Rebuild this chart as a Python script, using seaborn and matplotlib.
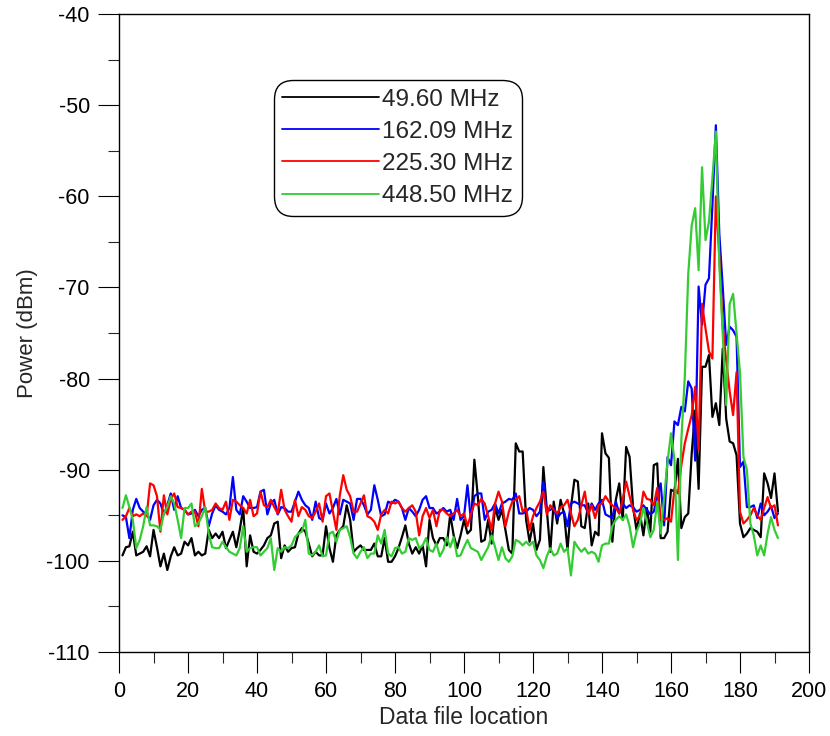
import matplotlib
matplotlib.use("Agg")
import matplotlib.pyplot as plt
from matplotlib.ticker import MultipleLocator
import seaborn as sns
import pandas as pd

# Data file location (x) and power readings (dBm) for each frequency
locations = list(range(1, 192))

p_49_60 = [
    -99.4, -98.5, -98.4, -96.8, -99.4, -99.2, -99.0, -98.4, -99.5, -96.6,
    -98.5, -100.6, -99.2, -101.0, -99.5, -98.5, -99.4, -99.2, -97.9, -98.3,
    -97.5, -99.4, -99.0, -99.4, -99.2, -96.6, -97.5, -97.0, -97.5, -96.8,
    -98.6, -97.7, -96.8, -98.5, -96.6, -94.2, -100.6, -97.2, -99.0, -99.2,
    -98.8, -98.3, -97.5, -97.2, -95.9, -95.7, -99.7, -98.3, -99.0, -98.6,
    -98.5, -97.0, -96.4, -96.8, -98.1, -99.5, -99.0, -99.4, -99.4, -96.2,
    -98.6, -100.1, -97.2, -96.6, -96.2, -93.9, -95.5, -99.0, -98.6, -98.3,
    -98.8, -98.8, -98.8, -98.1, -99.5, -99.5, -97.5, -100.1, -100.1, -99.5,
    -98.6, -97.4, -96.1, -98.1, -99.2, -98.5, -99.2, -98.3, -100.6, -95.5,
    -97.5, -98.3, -97.5, -97.5, -98.3, -94.9, -97.2, -98.6, -97.2, -95.5,
    -97.0, -96.6, -88.9, -92.9, -97.9, -97.7, -95.5, -98.1, -94.1, -95.5,
    -94.4, -96.6, -98.8, -99.2, -87.1, -88.0, -88.0, -95.5, -97.9, -95.9,
    -98.8, -97.7, -89.7, -94.4, -99.0, -93.5, -95.9, -93.3, -94.8, -98.8,
    -94.1, -91.1, -91.3, -96.2, -96.4, -93.7, -98.3, -96.8, -97.2, -86.0,
    -88.2, -88.7, -97.9, -93.3, -91.5, -95.5, -87.5, -88.6, -94.1, -96.6,
    -94.8, -97.2, -94.2, -96.8, -89.5, -89.3, -97.5, -97.5, -96.8, -92.2,
    -92.4, -88.8, -96.4, -95.2, -94.8, -88.2, -83.5, -92.1, -78.7, -78.7,
    -77.4, -84.2, -82.7, -85.1, -76.7, -84.4, -86.9, -87.1, -88.4, -95.9,
    -97.4, -97.0, -96.4, -96.6, -96.8, -97.4, -90.4, -91.5, -93.1, -90.4,
    -94.6,
]

p_162_09 = [
    -95.0, -95.2, -97.5, -94.4, -93.2, -94.2, -94.6, -94.9, -95.5, -93.9,
    -93.3, -93.7, -94.9, -93.9, -92.6, -94.4, -92.9, -94.2, -94.4, -94.9,
    -94.8, -94.4, -95.1, -94.4, -94.2, -96.2, -94.8, -93.9, -94.4, -94.6,
    -94.9, -94.2, -90.8, -94.4, -94.9, -92.9, -93.5, -94.2, -94.2, -94.1,
    -92.4, -92.2, -94.9, -93.7, -93.3, -94.9, -94.1, -94.2, -94.6, -94.6,
    -93.5, -92.4, -93.3, -93.9, -94.2, -95.5, -93.5, -95.3, -95.5, -93.7,
    -94.8, -94.2, -93.2, -94.9, -93.3, -93.5, -93.7, -95.5, -93.2, -93.2,
    -93.9, -94.9, -94.4, -91.7, -93.3, -95.1, -94.9, -93.5, -93.7, -93.3,
    -93.5, -94.2, -95.5, -94.2, -94.6, -95.1, -94.4, -93.3, -92.9, -94.2,
    -94.2, -94.8, -94.6, -94.2, -94.6, -94.4, -95.5, -93.2, -95.5, -95.1,
    -91.7, -95.5, -92.9, -92.6, -92.6, -95.5, -94.6, -94.4, -93.7, -94.8,
    -93.7, -93.5, -93.2, -93.3, -92.6, -94.8, -94.8, -94.6, -94.2, -94.4,
    -95.1, -94.6, -91.3, -94.6, -94.4, -94.2, -95.3, -94.8, -94.6, -96.2,
    -93.7, -93.5, -93.7, -93.9, -93.9, -94.8, -93.7, -94.4, -93.7, -93.3,
    -94.9, -95.1, -95.3, -93.5, -94.8, -93.7, -94.2, -93.9, -94.1, -94.6,
    -94.4, -93.9, -94.4, -94.9, -94.6, -93.0, -91.5, -96.1, -88.6, -89.5,
    -84.7, -85.1, -83.1, -83.6, -80.3, -81.1, -89.0, -69.9, -74.1, -69.7,
    -69.0, -61.0, -52.2, -64.1, -70.0, -76.3, -74.3, -74.7, -75.4, -89.7,
    -89.1, -94.1, -94.1, -93.9, -95.3, -93.7, -95.0, -94.6, -94.0, -95.3,
    -94.8,
]

p_225_30 = [
    -95.5, -95.1, -94.2, -95.1, -94.9, -95.1, -94.8, -95.1, -91.5, -91.7,
    -92.9, -96.8, -92.8, -94.9, -93.2, -92.6, -94.1, -94.2, -94.4, -94.9,
    -94.6, -94.6, -96.2, -92.1, -94.6, -94.6, -94.4, -93.7, -94.2, -94.4,
    -93.5, -95.5, -93.3, -93.5, -93.9, -94.2, -94.8, -93.3, -95.1, -94.8,
    -92.4, -93.9, -94.1, -93.3, -94.1, -94.8, -92.2, -94.4, -95.1, -95.7,
    -93.3, -95.1, -94.1, -94.4, -95.1, -95.3, -94.6, -93.7, -95.7, -92.9,
    -92.6, -94.6, -96.6, -92.8, -90.6, -92.2, -92.9, -94.6, -94.6, -93.7,
    -92.8, -95.1, -95.3, -95.7, -96.6, -94.9, -94.4, -94.8, -93.5, -93.7,
    -93.5, -94.2, -94.6, -94.2, -93.9, -94.6, -97.2, -95.1, -94.2, -95.3,
    -94.4, -96.2, -94.4, -94.4, -94.8, -95.1, -94.8, -94.4, -95.1, -94.8,
    -96.2, -94.9, -93.7, -93.9, -93.2, -93.7, -95.1, -96.6, -93.7, -92.4,
    -93.5, -96.2, -94.6, -93.5, -93.3, -92.9, -94.6, -94.2, -96.6, -95.1,
    -94.2, -93.5, -92.4, -94.9, -93.9, -94.4, -94.8, -94.1, -93.9, -93.3,
    -94.8, -96.2, -95.5, -93.9, -92.4, -94.9, -93.9, -95.3, -93.9, -93.7,
    -92.9, -93.5, -93.9, -94.2, -94.8, -93.3, -91.3, -92.9, -94.4, -95.5,
    -95.1, -92.4, -93.2, -93.3, -93.9, -92.0, -95.3, -95.5, -95.3, -95.7,
    -92.1, -92.6, -89.5, -87.1, -85.5, -84.0, -80.9, -87.8, -71.8, -74.5,
    -77.0, -77.8, -60.0, -66.6, -74.3, -78.0, -81.4, -84.0, -79.3, -94.6,
    -95.9, -95.5, -95.0, -94.2, -95.0, -95.5, -94.2, -93.0, -94.2, -93.9,
    -96.1,
]

p_448_50 = [
    -94.2, -92.8, -94.1, -95.5, -98.6, -97.7, -96.2, -94.1, -96.1, -96.1,
    -96.2, -96.6, -94.8, -94.1, -92.9, -93.7, -95.5, -97.5, -94.2, -94.2,
    -93.7, -96.2, -95.9, -95.1, -94.1, -97.0, -98.5, -98.6, -98.6, -97.9,
    -98.5, -99.0, -99.2, -99.4, -98.6, -96.2, -99.0, -98.6, -98.5, -98.5,
    -99.4, -99.0, -98.6, -97.5, -101.0, -98.6, -99.0, -98.5, -98.6, -98.3,
    -97.4, -97.0, -96.8, -95.5, -99.2, -99.4, -99.0, -98.3, -99.5, -99.4,
    -97.0, -96.8, -97.9, -96.6, -96.4, -96.2, -97.4, -99.2, -99.7, -99.0,
    -98.5, -99.7, -99.2, -99.2, -97.2, -98.1, -96.6, -99.2, -99.5, -98.6,
    -98.5, -99.2, -99.0, -97.5, -97.7, -97.5, -98.6, -98.3, -97.5, -98.8,
    -99.0, -98.1, -99.5, -98.8, -97.4, -98.5, -97.4, -99.5, -99.4, -98.5,
    -97.7, -98.6, -98.8, -99.0, -99.9, -99.2, -98.5, -97.2, -98.5, -99.9,
    -98.5, -99.7, -100.1, -99.5, -97.7, -97.9, -98.3, -97.9, -98.3, -97.9,
    -99.4, -99.9, -100.8, -99.5, -98.6, -99.4, -99.2, -98.1, -99.0, -98.6,
    -101.6, -97.9, -98.5, -99.0, -98.6, -99.2, -99.0, -99.2, -100.1, -98.3,
    -98.1, -98.1, -96.2, -95.5, -95.1, -95.5, -94.9, -96.2, -98.5, -96.8,
    -95.9, -94.2, -95.7, -97.4, -96.6, -93.5, -97.0, -93.0, -89.1, -86.0,
    -88.9, -99.9, -86.7, -79.8, -68.5, -63.2, -61.3, -68.1, -56.8, -64.8,
    -62.8, -58.0, -52.9, -67.4, -75.2, -82.9, -71.8, -70.7, -75.0, -79.4,
    -88.6, -90.0, -95.9, -97.2, -99.4, -98.3, -99.4, -97.0, -95.2, -96.6,
    -97.5,
]

freq_labels = ["49.60 MHz", "162.09 MHz", "225.30 MHz", "448.50 MHz"]
line_colors = ["#000000", "#0000ff", "#ff0000", "#33cc33"]

series = [p_49_60, p_162_09, p_225_30, p_448_50]
frames = []
for label, vals in zip(freq_labels, series):
    frames.append(pd.DataFrame({"loc": locations, "power": vals, "freq": label}))
df = pd.concat(frames, ignore_index=True)

sns.set_style("ticks")
plt.rcParams["font.family"] = ["Liberation Sans", "DejaVu Sans"]
plt.rcParams["axes.unicode_minus"] = False

fig = plt.figure(figsize=(8.3, 7.36), dpi=100)
ax = fig.add_axes([0.1434, 0.1141, 0.8313, 0.8668])

sns.lineplot(data=df, x="loc", y="power", hue="freq", hue_order=freq_labels,
             palette=line_colors, estimator=None, sort=False,
             linewidth=1.6, ax=ax)

ax.set_xlim(0, 200)
ax.set_ylim(-110, -40)
ax.xaxis.set_major_locator(MultipleLocator(20))
ax.xaxis.set_minor_locator(MultipleLocator(10))
ax.yaxis.set_major_locator(MultipleLocator(10))
ax.yaxis.set_minor_locator(MultipleLocator(5))
ax.tick_params(which="major", direction="out", length=15, width=0.8,
               labelsize=15.5, pad=6, colors="black")
ax.tick_params(which="minor", direction="out", length=8, width=0.8)
for sp in ax.spines.values():
    sp.set_color("black")
    sp.set_linewidth(1.0)

ax.set_xlabel("Data file location", fontsize=16.5, labelpad=3)
ax.set_ylabel("Power (dBm)", fontsize=16, labelpad=6)

handles, labels = ax.get_legend_handles_labels()
leg = ax.legend(handles, labels, loc="upper left", bbox_to_anchor=(0.2246, 0.8966),
                borderaxespad=0, fontsize=17.5, handlelength=3.95, handletextpad=0.15,
                labelspacing=0.42, fancybox=True, framealpha=1, edgecolor="black",
                borderpad=0.35)
leg.get_frame().set_linewidth(1.0)
leg.get_frame().set_boxstyle("round", pad=0, rounding_size=0.8)
for ln in leg.get_lines():
    ln.set_linewidth(1.3)

fig.savefig("out.png", dpi=100)
